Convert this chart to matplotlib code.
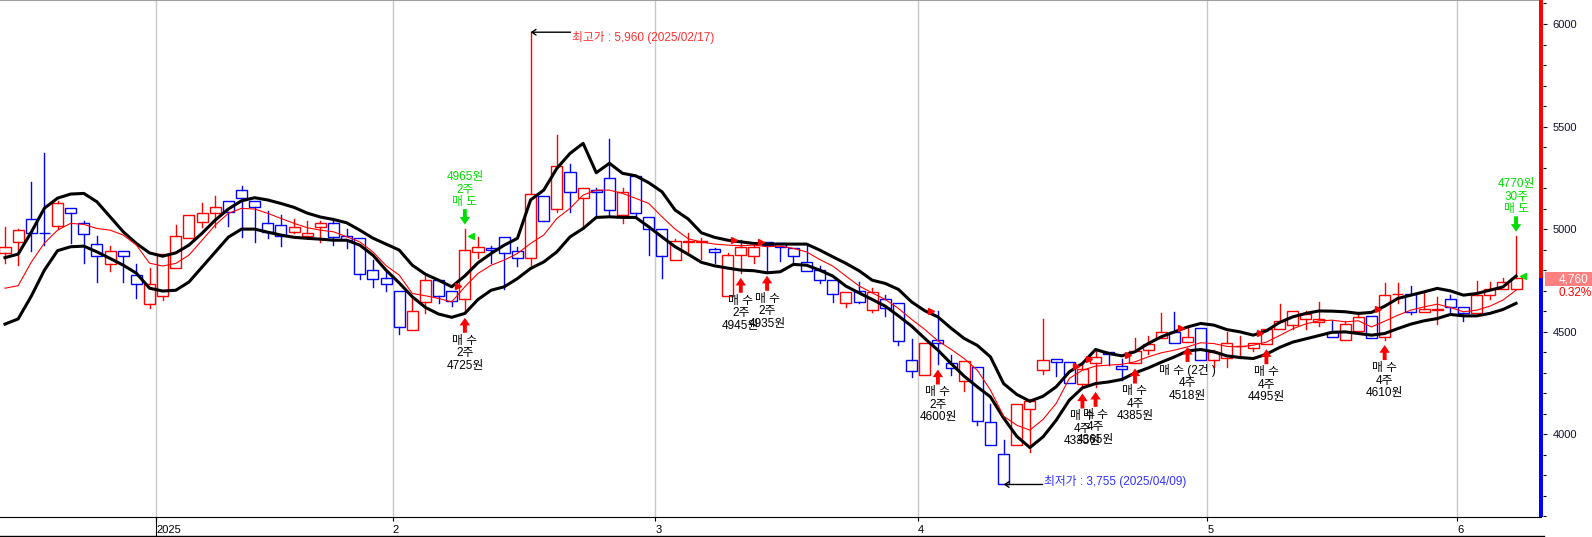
import matplotlib
matplotlib.use('Agg')
import matplotlib.pyplot as plt
import matplotlib.transforms as mtransforms
from matplotlib.patches import Rectangle
from matplotlib.lines import Line2D
from matplotlib.ticker import MultipleLocator

plt.rcParams['font.family'] = ['Liberation Sans', 'Noto Sans CJK KR']

# daily candles, 2024-12 .. 2025-06 (one entry per trading day)
opens = [4884, 4935, 5047, 4982, 5016, 5104, 5028, 4925, 4828, 4893, 4776, 4633,
         4675, 4808, 4958, 5036, 5077, 5137, 5190, 5137, 5028, 5020, 4984, 4966, 5008, 5028, 4966, 4955, 4803, 4764,
         4698, 4507, 4645, 4751, 4698, 4657, 4886, 4909, 4960, 4893, 4857, 5161, 5096, 5277, 5150, 5190, 5247, 5068, 5259, 5057,
         4999, 4849, 4938, 4938, 4901, 4673, 4873, 4868, 4935, 4930, 4906, 4840, 4803, 4751, 4642, 4698, 4608, 4657, 4640, 4361,
         4291, 4459, 4345, 4259, 4326, 4060, 3906, 3946, 4125, 4312, 4366, 4353, 4247, 4345, 4399, 4332, 4345, 4413, 4467, 4496, 4450, 4520,
         4364, 4374, 4428, 4418, 4439, 4511, 4532, 4560, 4545, 4496, 4459, 4502, 4576, 4475, 4684, 4683, 4597, 4608, 4657,
         4621, 4592, 4678, 4706, 4706]
highs = [5011, 5000, 5228, 5369, 5137, 5104, 5039, 4966, 4917, 4893, 4829, 4811,
         4877, 5020, 5068, 5125, 5161, 5137, 5210, 5137, 5088, 5068, 5047, 5039, 5039, 5055, 5000, 4955, 4849, 4803,
         4698, 4667, 4772, 4751, 4698, 5000, 4962, 4919, 4962, 4911, 5960, 5161, 5459, 5317, 5199, 5199, 5438, 5199, 5259, 5057,
         4999, 4950, 4979, 4955, 4909, 4884, 4946, 4930, 4935, 4930, 4906, 4922, 4820, 4751, 4691, 4743, 4711, 4678, 4640, 4463,
         4447, 4602, 4385, 4358, 4326, 4145, 3974, 4145, 4174, 4564, 4366, 4353, 4345, 4413, 4399, 4369, 4467, 4480, 4589, 4594, 4523, 4520,
         4413, 4496, 4480, 4447, 4511, 4633, 4600, 4600, 4643, 4553, 4553, 4597, 4576, 4735, 4735, 4723, 4694, 4670, 4678,
         4621, 4748, 4743, 4760, 4965]
lows = [4836, 4824, 4894, 4922, 5000, 4930, 4833, 4743, 4797, 4743, 4662, 4616,
        4654, 4808, 4958, 5011, 5011, 5016, 4960, 4938, 4958, 4919, 4979, 4958, 4935, 4922, 4906, 4755, 4719, 4699,
        4491, 4507, 4589, 4638, 4626, 4592, 4860, 4836, 4706, 4820, 4808, 5039, 5084, 5084, 5006, 5057, 5068, 5028, 5063, 4873,
        4762, 4849, 4882, 4852, 4833, 4673, 4787, 4833, 4797, 4845, 4840, 4797, 4735, 4645, 4621, 4638, 4597, 4576, 4434, 4277,
        4291, 4340, 4288, 4211, 4044, 3946, 3755, 3946, 3914, 4296, 4283, 4252, 4223, 4231, 4337, 4263, 4345, 4390, 4467, 4447, 4450, 4364,
        4328, 4328, 4374, 4407, 4439, 4511, 4511, 4511, 4527, 4475, 4459, 4502, 4471, 4459, 4638, 4584, 4597, 4537, 4589,
        4551, 4592, 4657, 4706, 4706]
closes = [4914, 4995, 4979, 4979, 5125, 5077, 4974, 4870, 4893, 4870, 4730, 4730,
          4877, 4967, 5068, 5077, 5106, 5084, 5150, 5106, 4987, 4966, 5008, 4979, 5028, 4963, 4946, 4779, 4755, 4730,
          4524, 4602, 4751, 4673, 4650, 4898, 4911, 4898, 4884, 4857, 5171, 5039, 5307, 5179, 5199, 5179, 5093, 5179, 5077, 4999,
          4870, 4942, 4942, 4942, 4889, 4873, 4911, 4911, 4922, 4911, 4870, 4797, 4751, 4686, 4691, 4645, 4691, 4613, 4454, 4309,
          4447, 4447, 4321, 4358, 4063, 3946, 3755, 4145, 4163, 4364, 4350, 4252, 4317, 4377, 4389, 4316, 4407, 4442, 4496, 4447, 4475, 4364,
          4399, 4447, 4431, 4447, 4511, 4551, 4600, 4584, 4560, 4475, 4535, 4572, 4471, 4678, 4686, 4594, 4610, 4610, 4621,
          4589, 4678, 4706, 4740, 4760]

band_upper = [4861, 4878, 4985, 5102, 5151, 5171, 5174, 5133, 5060, 4987, 4930, 4884,
              4868, 4884, 4922, 4980, 5044, 5098, 5138, 5153, 5142, 5125, 5106, 5078, 5059, 5047, 5031, 4995, 4956, 4927,
              4898, 4824, 4780, 4751, 4719, 4772, 4836, 4881, 4922, 4955, 5142, 5190, 5296, 5369, 5418, 5275, 5321, 5272, 5260, 5226,
              5182, 5093, 5049, 4982, 4960, 4946, 4938, 4930, 4927, 4927, 4927, 4927, 4898, 4865, 4833, 4797, 4751, 4735, 4706, 4645,
              4602, 4572, 4517, 4467, 4433, 4377, 4247, 4194, 4161, 4185, 4231, 4304, 4345, 4413, 4394, 4382, 4402, 4442, 4475, 4499, 4523, 4540,
              4532, 4510, 4499, 4483, 4504, 4545, 4572, 4589, 4601, 4600, 4597, 4589, 4594, 4624, 4662, 4678, 4694, 4711, 4699,
              4678, 4686, 4702, 4718, 4771]
band_mid = [4712, 4724, 4839, 4932, 4995, 5028, 5023, 5003, 4995, 4971, 4922, 4834,
            4820, 4833, 4873, 4946, 5020, 5077, 5101, 5098, 5077, 5052, 5028, 5007, 4995, 4987, 4963, 4938, 4889, 4822,
            4776, 4686, 4675, 4662, 4645, 4719, 4784, 4824, 4849, 4881, 4930, 4971, 5052, 5101, 5166, 5190, 5190, 5174, 5150, 5125,
            5060, 5000, 4953, 4937, 4927, 4922, 4919, 4922, 4914, 4917, 4906, 4889, 4852, 4820, 4771, 4723, 4689, 4657, 4613, 4560,
            4511, 4455, 4414, 4369, 4312, 4215, 4088, 4044, 4020, 4072, 4150, 4272, 4312, 4332, 4337, 4341, 4353, 4377, 4397, 4410, 4426, 4446,
            4442, 4428, 4426, 4434, 4449, 4481, 4514, 4538, 4553, 4556, 4548, 4553, 4523, 4551, 4580, 4605, 4621, 4634, 4618,
            4597, 4605, 4624, 4654, 4702]
band_lower = [4537, 4562, 4673, 4800, 4895, 4914, 4917, 4889, 4857, 4824, 4785, 4712,
              4698, 4702, 4742, 4815, 4888, 4961, 5000, 5000, 4985, 4971, 4960, 4955, 4951, 4946, 4946, 4922, 4873, 4800,
              4738, 4670, 4618, 4586, 4570, 4589, 4657, 4702, 4719, 4759, 4808, 4840, 4889, 4962, 5003, 5057, 5060, 5057, 5057, 5011,
              4962, 4914, 4877, 4838, 4821, 4810, 4800, 4797, 4787, 4792, 4828, 4824, 4800, 4771, 4722, 4689, 4657, 4624, 4577, 4527,
              4467, 4410, 4345, 4283, 4231, 4182, 4079, 3990, 3935, 3987, 4068, 4166, 4226, 4247, 4255, 4267, 4299, 4323, 4351, 4377, 4406, 4413,
              4402, 4382, 4374, 4369, 4390, 4423, 4449, 4465, 4481, 4497, 4499, 4491, 4483, 4491, 4515, 4537, 4553, 4564, 4584,
              4577, 4577, 4589, 4608, 4638]

month_pos = [11.5, 29.5, 49.5, 69.5, 91.5, 110.5]
month_labels = ['2025', '2', '3', '4', '5', '6']

buy_idx = [35, 56, 58, 71, 82, 83, 86, 90, 96, 105]
buy_price = [4725, 4945, 4935, 4600, 4335, 4365, 4385, 4518, 4495, 4610]
buy_qty = ['2주', '2주', '2주', '2주', '4주', '4주', '4주', '4주', '4주', '4주']
buy_title = ['매 수', '매 수', '매 수', '매 수', '매 수', '매 수', '매 수', '매 수 (2건 )', '매 수', '매 수']
sell_idx = [35, 115]
sell_price = [4965, 4770]
sell_qty = ['2주', '30주']

last_price = 4760
last_change = '0.32%'
hi_idx, hi_text = 40, '최고가 : 5,960 (2025/02/17)'
lo_idx, lo_text = 76, '최저가 : 3,755 (2025/04/09)'

RED = '#ff0000'
BLUE = '#0000ff'
GREEN = '#00dd00'
YMIN, YMAX = 3595, 6117

fig = plt.figure(figsize=(15.92, 5.37), dpi=100)
ax_bottom = 19.7 / 537
ax = fig.add_axes([0, ax_bottom, 1541 / 1592, 1 - ax_bottom])
ax.set_xlim(-0.38, 116.9)
ax.set_ylim(YMIN, YMAX)


def off(dx=0, dy=0):
    return mtransforms.offset_copy(ax.transData, fig=fig, x=dx, y=dy, units='dots')


# month grid
ax.vlines(month_pos, YMIN, YMAX, color='#c8c8c8', lw=1, zorder=0)

# candles
w = 0.84
for i in range(len(opens)):
    o, h, l, c = opens[i], highs[i], lows[i], closes[i]
    col = RED if c >= o else BLUE
    top, bot = max(o, c), min(o, c)
    ax.add_patch(Rectangle((i - w / 2, bot), w, top - bot, fill=False, ec=col, lw=1.0, zorder=2))
    if h > top:
        ax.plot([i, i], [top, h], color=col, lw=1.0, zorder=2)
    if l < bot:
        ax.plot([i, i], [l, bot], color=col, lw=1.0, zorder=2)

xs = list(range(len(opens)))
ax.plot(xs, band_upper, color='black', lw=2.2, zorder=3, solid_joinstyle='round')
ax.plot(xs, band_lower, color='black', lw=2.2, zorder=3, solid_joinstyle='round')
ax.plot(xs, band_mid, color=RED, lw=0.8, zorder=3)

arrow_style = 'simple,head_length=0.55,head_width=0.75,tail_width=0.28'

# buy markers
for i, p, q, t in zip(buy_idx, buy_price, buy_qty, buy_title):
    ax.plot(i - 0.5, p, marker='>', ms=4, color=RED, mec=RED, zorder=4)
    ax.annotate('', xy=(i, lows[i]), xycoords=off(0, -5), xytext=(i, lows[i]), textcoords=off(0, -20),
                arrowprops=dict(arrowstyle=arrow_style, fc=RED, ec=RED, lw=0,
                                shrinkA=0, shrinkB=0, mutation_scale=10), zorder=4)
    ax.text(i, lows[i], f'{t}\n{q}\n{p}원', transform=off(0, -22), ha='center', va='top',
            fontsize=8.5, color='black', linespacing=1.05, zorder=4)

# sell markers
for i, p, q in zip(sell_idx, sell_price, sell_qty):
    ax.plot(i + 0.5, p, marker='<', ms=4, color=GREEN, mec=GREEN, zorder=4)
    ax.annotate('', xy=(i, highs[i]), xycoords=off(0, 4.5), xytext=(i, highs[i]), textcoords=off(0, 20),
                arrowprops=dict(arrowstyle=arrow_style, fc=GREEN, ec=GREEN, lw=0,
                                shrinkA=0, shrinkB=0, mutation_scale=10), zorder=4)
    ax.text(i, highs[i], f'{p}원\n{q}\n매 도', transform=off(0, 21), ha='center', va='bottom',
            fontsize=8.5, color=GREEN, linespacing=1.05, zorder=4)

# highest / lowest notes
ax.annotate('', xy=(hi_idx, highs[hi_idx]), xytext=(hi_idx, highs[hi_idx]), textcoords=off(40, 0),
            arrowprops=dict(arrowstyle='->,head_length=0.3,head_width=0.2', color='black', lw=1,
                            shrinkA=0, shrinkB=0))
ax.text(hi_idx, highs[hi_idx], hi_text, transform=off(41, -5), ha='left', va='center',
        fontsize=8.5, color='#ff3030')
ax.annotate('', xy=(lo_idx, lows[lo_idx]), xytext=(lo_idx, lows[lo_idx]), textcoords=off(39, 0),
            arrowprops=dict(arrowstyle='->,head_length=0.3,head_width=0.2', color='black', lw=1,
                            shrinkA=0, shrinkB=0))
ax.text(lo_idx, lows[lo_idx], lo_text, transform=off(40, 3), ha='left', va='center',
        fontsize=8.5, color='#3030ff')

# axes styling
for side in ['left', 'right']:
    ax.spines[side].set_visible(False)
ax.spines['top'].set_color('#a0a0a0')
ax.spines['bottom'].set_color('black')
ax.set_yticks([])
ax.set_xticks(month_pos)
ax.set_xticklabels(month_labels)
ax.tick_params(axis='x', direction='out', length=3, width=0.8, pad=2.5, labelsize=8, colors='black')
for lab in ax.get_xticklabels():
    lab.set_ha('left')
ax.plot([month_pos[0], month_pos[0]], [0, -ax_bottom / (1 - ax_bottom)],
        transform=mtransforms.blended_transform_factory(ax.transData, ax.transAxes),
        color='black', lw=0.8, clip_on=False)
fig.add_artist(Line2D([0, 1544 / 1592], [0.8 / 537, 0.8 / 537], color='black', lw=1))

# price scale on the right
axr = fig.add_axes([1539 / 1592, ax_bottom, 4 / 1592, 1 - ax_bottom])
axr.set_xlim(0, 1)
axr.set_ylim(YMIN, YMAX)
axr.axhspan(last_price, YMAX, color=RED, lw=0)
axr.axhspan(YMIN, last_price, color=BLUE, lw=0)
axr.set_xticks([])
axr.yaxis.tick_right()
axr.set_yticks([4000, 4500, 5000, 5500, 6000])
axr.yaxis.set_minor_locator(MultipleLocator(100))
axr.tick_params(axis='y', which='major', length=3, width=0.8, pad=4, labelsize=8, colors='#101030')
axr.tick_params(axis='y', which='minor', length=2, width=0.8)
for s in axr.spines.values():
    s.set_visible(False)

fig.add_artist(Rectangle((1545 / 1592, 1 - 286 / 537), 47 / 1592, 14 / 537,
                         transform=fig.transFigure, color='#ff8080', lw=0))
fig.text(1574 / 1592, 1 - 279 / 537, f'{last_price:,}', color='white', ha='center', va='center', fontsize=8.5)
fig.text(1575 / 1592, 1 - 293.5 / 537, last_change, color=RED, ha='center', va='center', fontsize=8.5)

fig.savefig('out.png', dpi=100)
